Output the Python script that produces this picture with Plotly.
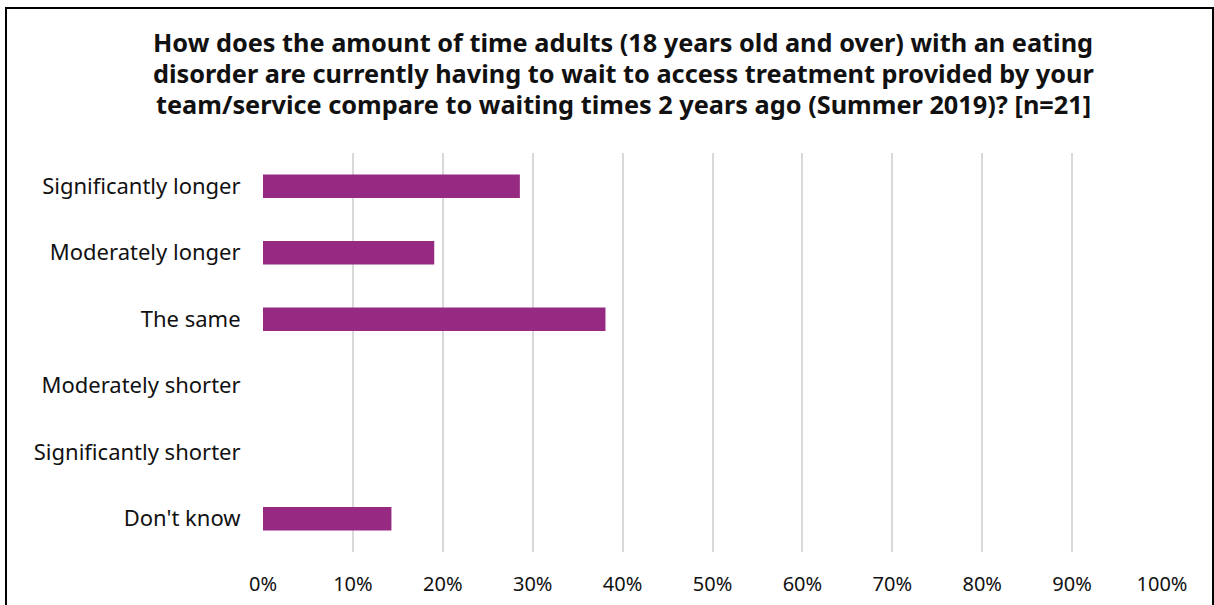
import plotly.graph_objects as go

# Survey responses (share of 21 services)
categories = [
    "Significantly longer",
    "Moderately longer",
    "The same",
    "Moderately shorter",
    "Significantly shorter",
    "Don't know",
]
shares = [6 / 21, 4 / 21, 8 / 21, 0.0, 0.0, 3 / 21]

tick_values = [i / 10 for i in range(11)]
tick_labels = [f"{i * 10}%" for i in range(11)]

title_lines = [
    "How does the amount of time adults (18 years old and over) with an eating",
    "disorder are currently having to wait to access treatment provided by your",
    "team/service compare to waiting times 2 years ago (Summer 2019)? [n=21]",
]

W, H = 1214, 605
ML, MR, MT, MB = 263, 52, 153, 53
PW, PH = W - ML - MR, H - MT - MB


def px_x(p):
    return (p - ML) / PW


def px_y(p):
    return (H - MB - p) / PH


FONT = "Noto Sans"

fig = go.Figure(
    go.Bar(
        x=shares,
        y=categories,
        orientation="h",
        width=0.35,
        marker=dict(color="#962A82", line=dict(width=0)),
        hoverinfo="x+y",
    )
)

fig.update_layout(
    width=W,
    height=H,
    margin=dict(l=ML, r=MR, t=MT, b=MB, pad=0, autoexpand=False),
    paper_bgcolor="white",
    plot_bgcolor="white",
    showlegend=False,
    font=dict(family=FONT, size=20, color="#111111"),
    xaxis=dict(
        range=[0, 1],
        tickvals=tick_values,
        ticktext=tick_labels,
        showgrid=True,
        gridcolor="#D9D9D9",
        gridwidth=2,
        zeroline=False,
        showline=False,
        ticks="outside",
        ticklen=14,
        tickcolor="rgba(0,0,0,0)",
        tickfont=dict(size=20),
        automargin=False,
        fixedrange=True,
    ),
    yaxis=dict(
        categoryorder="array",
        categoryarray=categories[::-1],
        showgrid=False,
        zeroline=False,
        showline=False,
        ticks="outside",
        ticklen=17,
        tickcolor="rgba(0,0,0,0)",
        tickfont=dict(size=22),
        automargin=False,
        fixedrange=True,
    ),
)

# Title, one annotation per line
for i, line in enumerate(title_lines):
    fig.add_annotation(
        text=f"<b>{line}</b>",
        xref="paper",
        yref="paper",
        x=px_x(623),
        y=px_y(42 + 31 * i),
        xanchor="center",
        yanchor="middle",
        showarrow=False,
        font=dict(family=FONT, size=25.3, color="#111111"),
    )

# Frame around the chart
fig.add_shape(
    type="rect",
    xref="paper",
    yref="paper",
    x0=px_x(6),
    x1=px_x(1213),
    y0=px_y(620),
    y1=px_y(8),
    line=dict(color="black", width=2),
    fillcolor="rgba(0,0,0,0)",
    layer="above",
)

fig.write_html("out.html")
